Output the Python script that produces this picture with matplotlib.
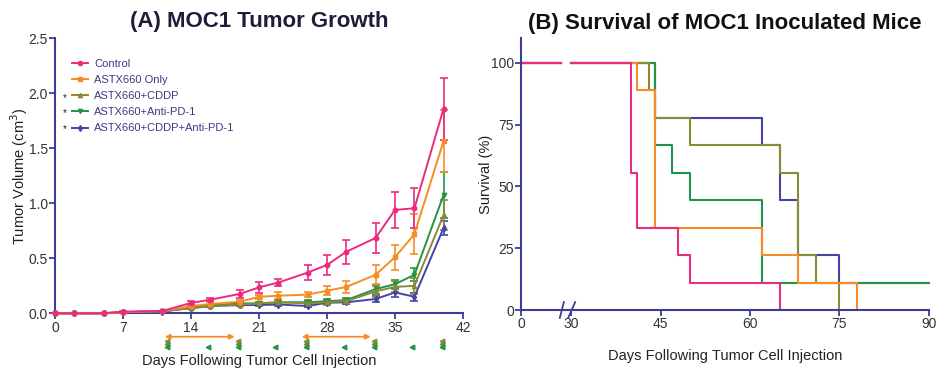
import numpy as np
import matplotlib
matplotlib.use('Agg')
import matplotlib.pyplot as plt
from matplotlib.lines import Line2D

plt.rcParams['font.family'] = ['Liberation Sans', 'DejaVu Sans']

# ---- Panel A: tumour growth (mean +/- SEM) ----
days = [0, 2, 5, 7, 11, 14, 16, 19, 21, 23, 26, 28, 30, 33, 35, 37, 40]

control = [0, 0, 0, 0.015, 0.02, 0.094, 0.124, 0.176, 0.236, 0.28, 0.37, 0.44, 0.56, 0.685, 0.94, 0.955, 1.86]
control_err = [0, 0, 0, 0.005, 0.005, 0.02, 0.015, 0.036, 0.05, 0.03, 0.067, 0.09, 0.11, 0.135, 0.165, 0.18, 0.28]

astx = [0, 0, 0, 0.01, 0.02, 0.066, 0.085, 0.105, 0.15, 0.16, 0.17, 0.205, 0.24, 0.35, 0.51, 0.72, 1.566]
astx_err = [0, 0, 0, 0.005, 0.005, 0.015, 0.015, 0.02, 0.02, 0.03, 0.025, 0.04, 0.055, 0.087, 0.115, 0.18, 0.28]

astx_cddp = [0, 0, 0, 0.01, 0.02, 0.045, 0.065, 0.08, 0.09, 0.1, 0.09, 0.1, 0.11, 0.2, 0.24, 0.25, 0.894]
astx_cddp_err = [0, 0, 0, 0.005, 0.005, 0.01, 0.01, 0.015, 0.015, 0.02, 0.02, 0.02, 0.02, 0.05, 0.05, 0.07, 0.14]

astx_pd1 = [0, 0, 0, 0.01, 0.02, 0.05, 0.07, 0.09, 0.09, 0.1, 0.1, 0.11, 0.12, 0.22, 0.265, 0.35, 1.075]
astx_pd1_err = [0, 0, 0, 0.005, 0.005, 0.01, 0.01, 0.015, 0.015, 0.02, 0.02, 0.02, 0.02, 0.04, 0.04, 0.06, 0.21]

triple = [0, 0, 0, 0.01, 0.015, 0.05, 0.065, 0.075, 0.075, 0.08, 0.066, 0.096, 0.1, 0.13, 0.19, 0.15, 0.775]
triple_err = [0, 0, 0, 0.005, 0.005, 0.01, 0.01, 0.01, 0.01, 0.01, 0.01, 0.015, 0.015, 0.03, 0.04, 0.035, 0.06]

labels = ['Control', 'ASTX660 Only', 'ASTX660+CDDP', 'ASTX660+Anti-PD-1', 'ASTX660+CDDP+Anti-PD-1']
starred = [False, False, True, True, True]

# treatment schedule under the x axis
astx_windows = [(11.3, 18.5), (25.4, 32.5)]
cddp_days = [11.5, 18.8, 25.8, 32.8, 39.8]
pd1_days = [11.5, 15.8, 18.8, 22.6, 25.8, 29.7, 32.8, 36.7, 39.8]

# ---- Panel B: Kaplan-Meier survival ----
surv_t = {
    'Control': [0, 40, 41, 48, 50, 65],
    'ASTX660 Only': [0, 41, 44, 62, 68, 78],
    'ASTX660+CDDP': [0, 43, 44, 50, 65, 68, 71, 75],
    'ASTX660+Anti-PD-1': [0, 44, 47, 50, 62, 90],
    'ASTX660+CDDP+Anti-PD-1': [0, 44, 62, 65, 68, 75, 90],
}
surv_p = {
    'Control': [100, 55.6, 33.3, 22.2, 11.1, 0],
    'ASTX660 Only': [100, 88.9, 33.3, 22.2, 11.1, 0],
    'ASTX660+CDDP': [100, 88.9, 77.8, 66.7, 55.6, 22.2, 11.1, 0],
    'ASTX660+Anti-PD-1': [100, 66.7, 55.6, 44.4, 11.1, 11.1],
    'ASTX660+CDDP+Anti-PD-1': [100, 77.8, 66.7, 44.4, 22.2, 11.1, 11.1],
}

colors = {
    'Control': '#ec2a80',
    'ASTX660 Only': '#f68d24',
    'ASTX660+CDDP': '#8b8a35',
    'ASTX660+Anti-PD-1': '#23934a',
    'ASTX660+CDDP+Anti-PD-1': '#4345a8',
}
markers = {
    'Control': 'o',
    'ASTX660 Only': 's',
    'ASTX660+CDDP': '^',
    'ASTX660+Anti-PD-1': 'v',
    'ASTX660+CDDP+Anti-PD-1': 'd',
}
growth = {
    'Control': (control, control_err),
    'ASTX660 Only': (astx, astx_err),
    'ASTX660+CDDP': (astx_cddp, astx_cddp_err),
    'ASTX660+Anti-PD-1': (astx_pd1, astx_pd1_err),
    'ASTX660+CDDP+Anti-PD-1': (triple, triple_err),
}

axis_col = '#3b3d96'
tick_col = '#333333'
lab_fs = 10.5

fig = plt.figure(figsize=(9.37, 3.68), dpi=100)
W, H = 937, 368

def px_axes(x0, x1, ytop, ybot):
    return fig.add_axes([x0 / W, 1 - ybot / H, (x1 - x0) / W, (ybot - ytop) / H])

def style(ax):
    for s in ['top', 'right']:
        ax.spines[s].set_visible(False)
    for s in ['left', 'bottom']:
        ax.spines[s].set_color(axis_col)
        ax.spines[s].set_linewidth(1.5)
    ax.tick_params(colors=axis_col, labelcolor=tick_col, labelsize=10, width=1.3, length=4, pad=1.2)

# ---------- A ----------
axA = px_axes(55, 463, 38.3, 313.3)
style(axA)
draw_order = ['ASTX660+CDDP+Anti-PD-1', 'ASTX660+Anti-PD-1', 'ASTX660+CDDP', 'ASTX660 Only', 'Control']
for name in draw_order:
    vals, err = growth[name]
    axA.errorbar(days, vals, yerr=err, color=colors[name], marker=markers[name], ms=3.2,
                 lw=1.4, elinewidth=1.2, capsize=3, capthick=1.2, clip_on=False, zorder=3)
axA.set_xlim(0, 42)
axA.set_ylim(0, 2.5)
axA.set_xticks(range(0, 43, 7))
axA.set_yticks([0, 0.5, 1.0, 1.5, 2.0, 2.5])
axA.set_yticklabels(['0.0', '0.5', '1.0', '1.5', '2.0', '2.5'])
axA.set_ylabel('Tumor Volume (cm$^3$)', fontsize=lab_fs, color='#222222')
axA.yaxis.set_label_coords(-0.061, 0.5)
axA.set_xlabel('Days Following Tumor Cell Injection', fontsize=lab_fs, color='#222222')
axA.xaxis.set_label_coords(0.5, -0.147)

# treatment markers below the axis
for a, b in astx_windows:
    axA.annotate('', xy=(b, -0.213), xytext=(a, -0.213), xycoords='data',
                 arrowprops=dict(arrowstyle='<|-|>', color=colors['ASTX660 Only'], lw=1.3,
                                 mutation_scale=7, shrinkA=0, shrinkB=0),
                 annotation_clip=False)
axA.plot(cddp_days, [-0.248] * len(cddp_days), ls='none', marker='<', ms=3.3,
         color=colors['ASTX660+CDDP'], clip_on=False)
axA.plot(cddp_days, [-0.275] * len(cddp_days), ls='none', marker='<', ms=3.3,
         color='#5f8d3a', clip_on=False)
axA.plot(pd1_days, [-0.303] * len(pd1_days), ls='none', marker='<', ms=3.3,
         color=colors['ASTX660+Anti-PD-1'], clip_on=False)

handles = [Line2D([], [], color=colors[n], marker=markers[n], ms=3, lw=1.4) for n in labels]
leg = axA.legend(handles, labels, loc='upper left', bbox_to_anchor=(0.028, 0.945), frameon=False,
                 fontsize=8, handlelength=1.4, handletextpad=0.6, labelspacing=0.55, borderpad=0)
for t in leg.get_texts():
    t.set_color('#3a3a8a')
row_y = [(313.3 - y) / 275 for y in [62, 78.5, 94.5, 110, 126]]
for i, (lab, st) in enumerate(zip(labels, starred)):
    if st:
        axA.text(0.025, row_y[i] - 0.012, '*', transform=axA.transAxes, fontsize=7,
                 ha='center', va='center', color='#222222')

fig.text((55 + 463) / 2 / W, 1 - 22 / H, '(A) MOC1 Tumor Growth', ha='center', va='center',
         fontsize=16, fontweight='bold', color='#1d1d3a')

# ---------- B ----------
brk = 30.0
k = (60 * 50 / 358) / 30.0

def fwd(t):
    t = np.asarray(t, dtype=float)
    return np.where(t < brk, brk - (brk - t) * k, t)

def inv(y):
    y = np.asarray(y, dtype=float)
    return np.where(y < brk, brk - (brk - y) / k, y)

gap_start = 24.0

axB = px_axes(521, 929, 38, 310)
style(axB)
axB.set_xscale('function', functions=(fwd, inv))
b_order = ['ASTX660+CDDP+Anti-PD-1', 'ASTX660+Anti-PD-1', 'ASTX660+CDDP', 'ASTX660 Only', 'Control']
for name in b_order:
    t = np.array(surv_t[name], dtype=float)
    p = np.array(surv_p[name], dtype=float)
    # part before the axis break
    axB.plot([0, gap_start], [p[0], p[0]], color=colors[name], lw=1.5, clip_on=False)
    # part after the break
    tt = t.copy()
    tt[0] = brk
    axB.step(tt, p, where='post', color=colors[name], lw=1.5, clip_on=False)
axB.set_xlim(0, 90)
axB.set_ylim(0, 110)
axB.set_xticks([0, 30, 45, 60, 75, 90])
axB.set_xticklabels(['0', '30', '45', '60', '75', '90'])
axB.xaxis.set_minor_locator(matplotlib.ticker.NullLocator())
axB.set_yticks([0, 25, 50, 75, 100])
axB.set_ylabel('Survival (%)', fontsize=lab_fs, color='#222222')
axB.yaxis.set_label_coords(-0.069, 0.5)
axB.set_xlabel('Days Following Tumor Cell Injection', fontsize=lab_fs, color='#222222')
axB.xaxis.set_label_coords(0.5, -0.145)

# axis break marks
for xb in [24.5, 29.5]:
    axB.plot([xb - 1.2, xb + 1.2], [-3.2, 3.2], color=axis_col, lw=1.3, clip_on=False)

fig.text((521 + 929) / 2 / W, 1 - 23 / H, '(B) Survival of MOC1 Inoculated Mice', ha='center',
         va='center', fontsize=16, fontweight='bold', color='#111111')

fig.savefig('out.png', dpi=100)
